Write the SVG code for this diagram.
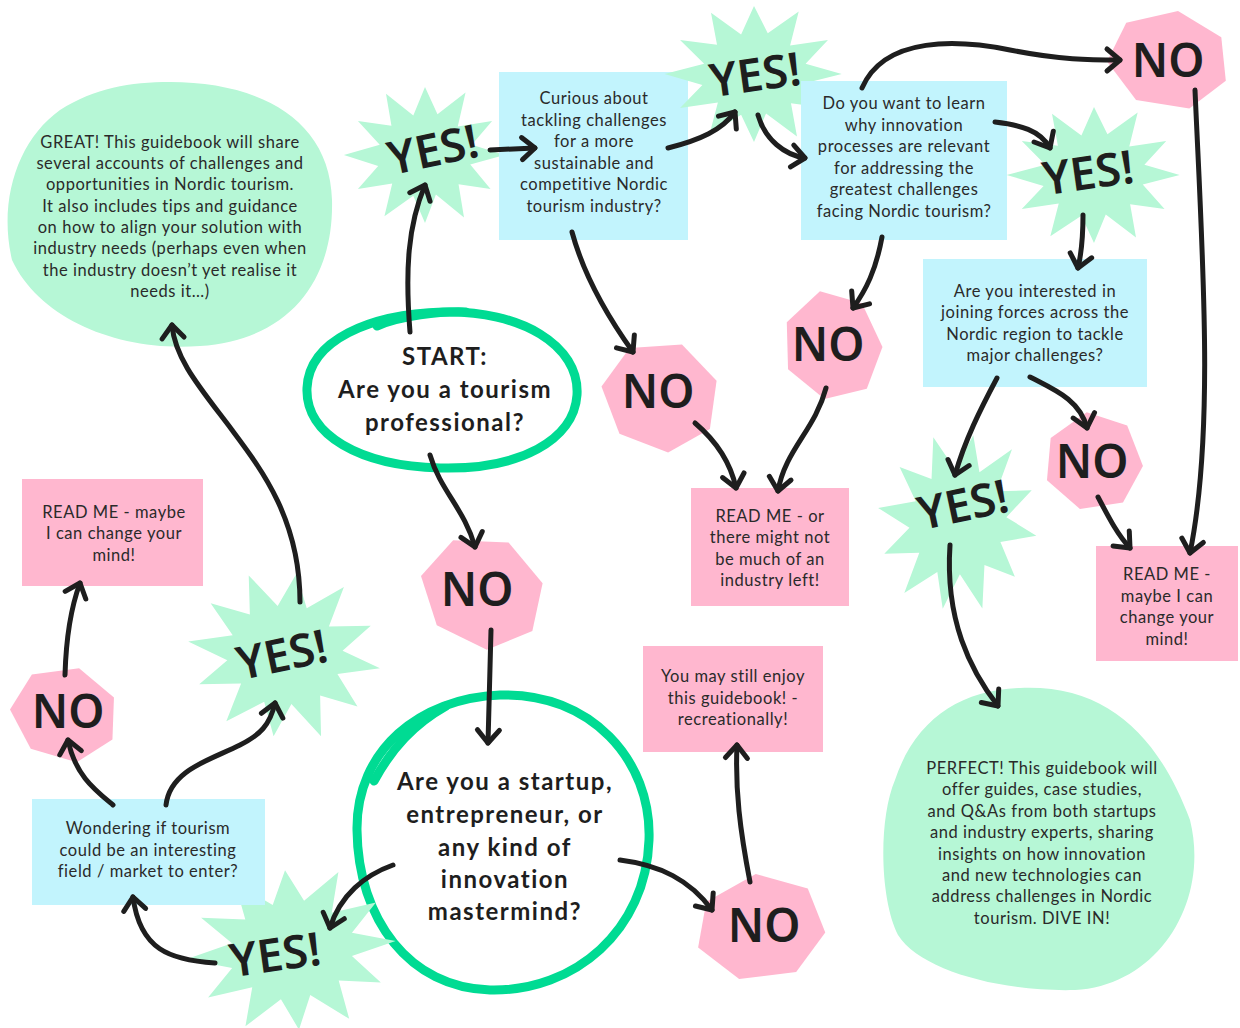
<svg xmlns="http://www.w3.org/2000/svg" xmlns:xlink="http://www.w3.org/1999/xlink" width="1240" height="1028" viewBox="0 0 1240 1028">
<style>
.mint{fill:#b6f7d6}
.blue{fill:#c2f4fd}
.pink{fill:#ffb7cf}
.ring{fill:none;stroke:#00db93;stroke-width:9;stroke-linecap:round}
.t{font-family:Lato,"Noto Sans",sans-serif;font-size:16.5px;letter-spacing:0.55px;fill:#2a2a2a;text-anchor:middle}
.q{font-family:Lato,"Noto Sans",sans-serif;font-size:24px;font-weight:700;fill:#1e1e1e;text-anchor:middle;letter-spacing:1.5px}
.big{font-family:"Noto Sans","DejaVu Sans",sans-serif;font-size:46px;font-weight:600;fill:#1e1e1e;text-anchor:middle}
.c path{fill:none;stroke:#1e1e1e;stroke-width:5;stroke-linecap:round;marker-end:url(#ah)}
</style>
<defs>
<marker id="ah" viewBox="-16 -14 22 28" refX="0" refY="0" markerWidth="22" markerHeight="28" markerUnits="userSpaceOnUse" orient="auto" overflow="visible">
<path d="M-13,-11 L0,0 L-13,11" fill="none" stroke="#1e1e1e" stroke-width="5" stroke-linecap="round" stroke-linejoin="round"/>
</marker>
<polygon id="burst" points="1.02,0 0.58,0.14 0.84,0.5 0.43,0.43 0.5,0.92 0.14,0.58 0,1 -0.15,0.6 -0.52,0.9 -0.42,0.42 -0.86,0.5 -0.6,0.16 -1.04,0 -0.58,-0.15 -0.86,-0.5 -0.43,-0.43 -0.5,-0.9 -0.15,-0.58 0,-1 0.16,-0.6 0.52,-0.92 0.42,-0.42 0.86,-0.5 0.6,-0.15"/>
<polygon id="hept" points="0.05,-1 0.8,-0.6 0.97,0.25 0.45,0.9 -0.42,0.88 -0.97,0.2 -0.75,-0.62"/>
</defs>
<rect width="1240" height="1028" fill="#ffffff"/>

<g id="great">
<path class="mint" d="M170,82 C260,82 330,120 332,200 C334,280 290,340 200,346 C120,352 40,320 12,260 C-2,200 18,140 60,110 C95,88 130,82 170,82 Z"/>
<text class="t"><tspan x="170" y="148">GREAT! This guidebook will share</tspan><tspan x="170" y="169">several accounts of challenges and</tspan><tspan x="170" y="190">opportunities in Nordic tourism.</tspan><tspan x="170" y="212">It also includes tips and guidance</tspan><tspan x="170" y="233">on how to align your solution with</tspan><tspan x="170" y="254">industry needs (perhaps even when</tspan><tspan x="170" y="276">the industry doesn’t yet realise it</tspan><tspan x="170" y="297">needs it…)</tspan></text>
</g>

<g id="start">
<path class="ring" d="M443,312 C520,310 580,345 577,395 C574,440 520,470 440,468 C360,466 305,435 307,388 C309,340 370,314 443,312 Z"/>
<path class="ring" d="M377,326 C400,316 440,311 466,312"/>
<text class="q"><tspan x="445" y="365">START:</tspan><tspan x="445" y="398">Are you a tourism</tspan><tspan x="445" y="431">professional?</tspan></text>
</g>

<g id="yes1">
<use href="#burst" class="mint" transform="translate(425,155) scale(78,68)"/>
<text class="big" transform="translate(433,150) rotate(-12)" y="16">YES!</text>
</g>

<g id="curious">
<rect class="blue" x="499" y="72" width="189" height="168"/>
<text class="t"><tspan x="594" y="104">Curious about</tspan><tspan x="594" y="126">tackling challenges</tspan><tspan x="594" y="147">for a more</tspan><tspan x="594" y="169">sustainable and</tspan><tspan x="594" y="190">competitive Nordic</tspan><tspan x="594" y="212">tourism industry?</tspan></text>
</g>

<g id="yes2">
<use href="#burst" class="mint" transform="translate(754,74) scale(86,68)"/>
<text class="big" transform="translate(755,75) rotate(-8)" y="16">YES!</text>
</g>

<g id="learn">
<rect class="blue" x="801" y="81" width="206" height="159"/>
<text class="t"><tspan x="904" y="109">Do you want to learn</tspan><tspan x="904" y="131">why innovation</tspan><tspan x="904" y="152">processes are relevant</tspan><tspan x="904" y="174">for addressing the</tspan><tspan x="904" y="195">greatest challenges</tspan><tspan x="904" y="217">facing Nordic tourism?</tspan></text>
</g>

<g id="no1">
<use href="#hept" class="pink" transform="translate(1168,60) rotate(8) scale(62,50)"/>
<text class="big" x="1168" y="77">NO</text>
</g>

<g id="yes3">
<use href="#burst" class="mint" transform="translate(1094,175) scale(84,68)"/>
<text class="big" transform="translate(1088,173) rotate(-8)" y="16">YES!</text>
</g>

<g id="interested">
<rect class="blue" x="923" y="259" width="224" height="128"/>
<text class="t"><tspan x="1035" y="297">Are you interested in</tspan><tspan x="1035" y="318">joining forces across the</tspan><tspan x="1035" y="340">Nordic region to tackle</tspan><tspan x="1035" y="361">major challenges?</tspan></text>
</g>

<g id="no2">
<use href="#hept" class="pink" transform="translate(832,346) rotate(-15) scale(50,56)"/>
<text class="big" x="828" y="361">NO</text>
</g>

<g id="no3">
<use href="#hept" class="pink" transform="translate(660,396) rotate(20) scale(60,56)"/>
<text class="big" x="658" y="408">NO</text>
</g>

<g id="readme-mid">
<rect class="pink" x="691" y="488" width="158" height="118"/>
<text class="t"><tspan x="770" y="522">READ ME - or</tspan><tspan x="770" y="543">there might not</tspan><tspan x="770" y="565">be much of an</tspan><tspan x="770" y="586">industry left!</tspan></text>
</g>

<g id="yes4">
<use href="#burst" class="mint" transform="translate(958,522) rotate(10) scale(78,88)"/>
<text class="big" transform="translate(963,505) rotate(-12)" y="16">YES!</text>
</g>

<g id="no4">
<use href="#hept" class="pink" transform="translate(1093,462) rotate(-10) scale(50,50)"/>
<text class="big" x="1092" y="478">NO</text>
</g>

<g id="readme-right">
<rect class="pink" x="1096" y="546" width="142" height="115"/>
<text class="t"><tspan x="1167" y="580">READ ME -</tspan><tspan x="1167" y="602">maybe I can</tspan><tspan x="1167" y="623">change your</tspan><tspan x="1167" y="645">mind!</tspan></text>
</g>

<g id="perfect">
<path class="mint" d="M1020,688 C1110,684 1160,740 1190,820 C1210,900 1160,985 1075,990 C1000,992 920,970 898,935 C880,900 878,820 895,780 C915,720 960,690 1020,688 Z"/>
<text class="t"><tspan x="1042" y="774">PERFECT! This guidebook will</tspan><tspan x="1042" y="795">offer guides, case studies,</tspan><tspan x="1042" y="817">and Q&amp;As from both startups</tspan><tspan x="1042" y="838">and industry experts, sharing</tspan><tspan x="1042" y="860">insights on how innovation</tspan><tspan x="1042" y="881">and new technologies can</tspan><tspan x="1042" y="902">address challenges in Nordic</tspan><tspan x="1042" y="924">tourism. DIVE IN!</tspan></text>
</g>

<g id="no5">
<use href="#hept" class="pink" transform="translate(482,592) rotate(25) scale(64,56)"/>
<text class="big" x="477" y="606">NO</text>
</g>

<g id="startup">
<path class="ring" d="M500,695 C590,692 652,760 649,840 C646,930 575,992 490,990 C410,988 358,920 357,830 C356,750 420,698 500,695 Z"/>
<path class="ring" d="M374,781 C392,748 414,724 446,706"/>
<text class="q"><tspan x="505" y="790">Are you a startup,</tspan><tspan x="505" y="823">entrepreneur, or</tspan><tspan x="505" y="856">any kind of</tspan><tspan x="505" y="888">innovation</tspan><tspan x="505" y="920">mastermind?</tspan></text>
</g>

<g id="enjoy">
<rect class="pink" x="643" y="646" width="180" height="106"/>
<text class="t"><tspan x="733" y="682">You may still enjoy</tspan><tspan x="733" y="704">this guidebook! -</tspan><tspan x="733" y="725">recreationally!</tspan></text>
</g>

<g id="no6">
<use href="#hept" class="pink" transform="translate(760,928) rotate(-8) scale(66,54)"/>
<text class="big" x="764" y="942">NO</text>
</g>

<g id="yes6">
<use href="#burst" class="mint" transform="translate(292,950) rotate(-5) scale(102,80)"/>
<text class="big" transform="translate(275,955) rotate(-8)" y="16">YES!</text>
</g>

<g id="wondering">
<rect class="blue" x="32" y="799" width="233" height="106"/>
<text class="t"><tspan x="148" y="834">Wondering if tourism</tspan><tspan x="148" y="856">could be an interesting</tspan><tspan x="148" y="877">field / market to enter?</tspan></text>
</g>

<g id="no7">
<use href="#hept" class="pink" transform="translate(64,714) rotate(15) scale(55,48)"/>
<text class="big" x="68" y="728">NO</text>
</g>

<g id="readme-left">
<rect class="pink" x="22" y="479" width="181" height="107"/>
<text class="t"><tspan x="114" y="518">READ ME - maybe</tspan><tspan x="114" y="539">I can change your</tspan><tspan x="114" y="561">mind!</tspan></text>
</g>

<g id="yes5">
<use href="#burst" class="mint" transform="translate(285,655) rotate(8) scale(94,82)"/>
<text class="big" transform="translate(282,655) rotate(-12)" y="16">YES!</text>
</g>

<g id="connectors" class="c">
<path d="M410,332 C405,270 408,225 425,185"/>
<path d="M490,150 L535,148"/>
<path d="M668,148 C700,140 722,130 735,112"/>
<path d="M758,115 C765,140 785,155 805,158"/>
<path d="M862,88 C885,35 960,40 1010,50 C1060,60 1090,60 1120,60"/>
<path d="M995,122 C1020,125 1040,130 1050,148"/>
<path d="M1083,215 C1083,240 1081,255 1078,268"/>
<path d="M1195,90 C1202,250 1215,430 1190,553"/>
<path d="M882,237 C876,270 866,290 853,308"/>
<path d="M572,232 C585,280 610,320 633,352"/>
<path d="M695,423 C715,440 730,460 736,488"/>
<path d="M826,388 C815,430 785,450 778,491"/>
<path d="M997,378 C980,410 965,440 955,475"/>
<path d="M1030,377 C1055,390 1080,400 1087,428"/>
<path d="M1098,497 C1110,520 1118,535 1130,548"/>
<path d="M950,545 C945,620 970,670 998,706"/>
<path d="M430,455 C440,490 465,510 475,547"/>
<path d="M491,630 C490,670 489,710 488,743"/>
<path d="M620,860 C660,865 690,880 712,910"/>
<path d="M750,882 C740,830 735,790 737,745"/>
<path d="M393,865 C365,875 340,895 330,928"/>
<path d="M215,963 C170,960 140,950 133,897"/>
<path d="M113,805 C95,790 75,775 68,740"/>
<path d="M65,675 C66,640 70,610 80,583"/>
<path d="M166,805 C170,770 210,760 240,745 C260,735 270,725 275,703"/>
<path d="M300,602 C300,520 262,470 232,430 C202,390 175,360 172,325"/>
</g>
</svg>
